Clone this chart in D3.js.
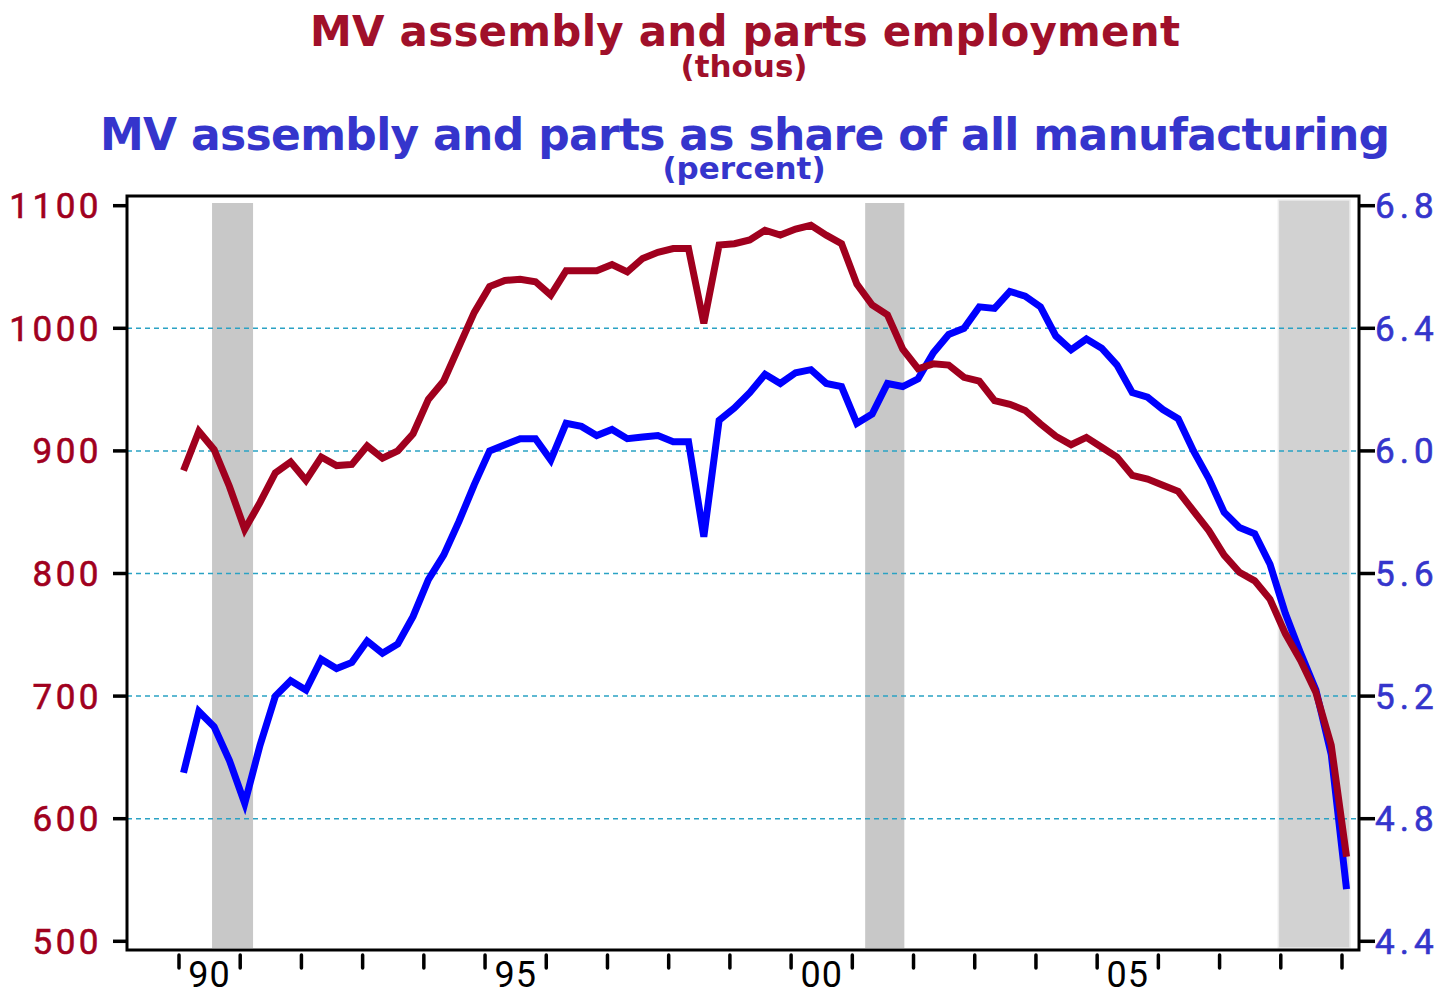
<!DOCTYPE html>
<html>
<head>
<meta charset="utf-8">
<script src="https://cdn.jsdelivr.net/npm/d3@7"></script>
<style>
  html, body { margin: 0; padding: 0; background: #fff; }
  svg { display: block; }
  .num { font-family: Roboto, "Liberation Sans", Arial, sans-serif; }
</style>
</head>
<body>
<svg id="chart" width="1445" height="995"></svg>
<script>
// ---------------- data ----------------
const startYear = 1990;
const employment = [884, 916, 901, 871, 836, 858, 882, 891, 876, 895, 888, 889, 904, 894, 900, 914,
  942, 957, 985, 1013, 1034, 1039, 1040, 1038, 1027, 1047, 1047, 1047, 1052, 1046, 1057, 1062,
  1065, 1065, 1004, 1068, 1069, 1072, 1080, 1076, 1081, 1084, 1076, 1069, 1036, 1019, 1011, 983,
  967, 971, 970, 960, 957, 941, 938, 933, 922, 912, 905, 911, 903, 895, 880, 877,
  872, 867, 851, 835, 815, 801, 794, 779, 751, 729, 703, 660, 569];
const share = [4.95, 5.15, 5.10, 4.99, 4.85, 5.04, 5.20, 5.25, 5.22, 5.32, 5.29, 5.31, 5.38, 5.34, 5.37, 5.46,
  5.58, 5.66, 5.77, 5.89, 6.00, 6.02, 6.04, 6.04, 5.97, 6.09, 6.08, 6.05, 6.07, 6.04, 6.045, 6.05,
  6.03, 6.03, 5.72, 6.10, 6.14, 6.19, 6.25, 6.22, 6.255, 6.265, 6.22, 6.21, 6.09, 6.12, 6.22, 6.21,
  6.235, 6.32, 6.38, 6.40, 6.47, 6.465, 6.52, 6.505, 6.47, 6.375, 6.33, 6.365, 6.335, 6.28, 6.19, 6.175,
  6.135, 6.105, 6.0, 5.91, 5.80, 5.75, 5.73, 5.63, 5.47, 5.34, 5.22, 5.01, 4.57];
// quarter labels (categories)
const quarters = employment.map((d, i) => (startYear + Math.floor(i / 4)) + "Q" + (i % 4 + 1));
const recessions = [[1990.54, 1991.21], [2001.21, 2001.85], [2007.96, 2009.13]];
const leftTicks = [500, 600, 700, 800, 900, 1000, 1100];
const rightTicks = [4.4, 4.8, 5.2, 5.6, 6.0, 6.4, 6.8];
const gridValues = [600, 700, 800, 900, 1000];
const yearTicks = d3.range(1990, 2010);
const yearLabels = [[1990, "90"], [1995, "95"], [2000, "00"], [2005, "05"]];
const titles = {
  t1: "MV assembly and parts employment",
  s1: "(thous)",
  t2: "MV assembly and parts as share of all manufacturing",
  s2: "(percent)"
};

// ---------------- layout ----------------
const RED = "#a0001e", BLUE = "#0000ff", BLUE_T = "#3535cc", RED_T = "#a0102a";
const frame = { l: 127, r: 1359, t: 196, b: 950 };
const svg = d3.select("#chart");

const x = d3.scaleLinear().domain([1990, 2009]).range([179, 1342]);
const yL = d3.scaleLinear().domain([500, 1100]).range([941.3, 205.7]);
const yR = d3.scaleLinear().domain([4.4, 6.8]).range([941.3, 205.7]);
const tOf = q => +q.slice(0, 4) + (+q.slice(5) - 1) * 0.25 + 0.074;

// titles
svg.append("text").attr("x", 745).attr("y", 46).attr("text-anchor", "middle")
  .attr("font-family", "DejaVu Sans").attr("font-weight", "bold").attr("font-size", 42)
  .attr("fill", RED_T).attr("textLength", 870).attr("lengthAdjust", "spacing").text(titles.t1);
svg.append("text").attr("x", 744).attr("y", 77).attr("text-anchor", "middle")
  .attr("font-family", "DejaVu Sans").attr("font-weight", "bold").attr("font-size", 31)
  .attr("fill", RED_T).text(titles.s1);
svg.append("text").attr("x", 745).attr("y", 150).attr("text-anchor", "middle")
  .attr("font-family", "DejaVu Sans").attr("font-weight", "bold").attr("font-size", 44)
  .attr("fill", BLUE_T).attr("textLength", 1290).attr("lengthAdjust", "spacing").text(titles.t2);
svg.append("text").attr("x", 744).attr("y", 179).attr("text-anchor", "middle")
  .attr("font-family", "DejaVu Sans").attr("font-weight", "bold").attr("font-size", 31)
  .attr("fill", BLUE_T).text(titles.s2);

// recession shading
svg.append("g").selectAll("rect").data(recessions).join("rect")
  .attr("x", d => x(d[0])).attr("width", d => x(d[1]) - x(d[0]))
  .attr("y", (d, i) => i === 2 ? 200 : 203).attr("height", (d, i) => i === 2 ? 748 : 745)
  .attr("fill", (d, i) => i === 2 ? "#d2d2d2" : "#c8c8c8")
  .attr("stroke", (d, i) => i === 2 ? "#ececec" : "none").attr("stroke-width", 1.5);

// gridlines
svg.append("g").selectAll("line").data(gridValues).join("line")
  .attr("x1", frame.l).attr("x2", frame.r)
  .attr("y1", d => yL(d)).attr("y2", d => yL(d))
  .attr("stroke", "#2aa2c4").attr("stroke-width", 1.5).attr("stroke-dasharray", "5,4");

// lines
const lineL = d3.line().x((d, i) => x(tOf(quarters[i]))).y(d => yL(d));
const lineR = d3.line().x((d, i) => x(tOf(quarters[i]))).y(d => yR(d));
svg.append("path").datum(share).attr("d", lineR).attr("fill", "none")
  .attr("stroke", BLUE).attr("stroke-width", 7).attr("stroke-linejoin", "miter").attr("stroke-miterlimit", 4);
svg.append("path").datum(employment).attr("d", lineL).attr("fill", "none")
  .attr("stroke", RED).attr("stroke-width", 7).attr("stroke-linejoin", "miter").attr("stroke-miterlimit", 4);

// frame
svg.append("rect").attr("x", frame.l).attr("y", frame.t)
  .attr("width", frame.r - frame.l).attr("height", frame.b - frame.t)
  .attr("fill", "none").attr("stroke", "#000").attr("stroke-width", 3);

// left axis
const gL = svg.append("g");
gL.selectAll("line").data(leftTicks).join("line")
  .attr("x1", 113).attr("x2", frame.l).attr("y1", d => yL(d)).attr("y2", d => yL(d))
  .attr("stroke", "#000").attr("stroke-width", 3.5);
gL.selectAll("text").data(leftTicks).join("text").attr("class", "num")
  .attr("x", 102).attr("y", d => yL(d) + 12.5).attr("text-anchor", "end")
  .attr("font-size", 35).attr("letter-spacing", 3.5)
  .attr("fill", RED).attr("stroke", RED).attr("stroke-width", 0.6).text(d => d);

// right axis
const gR = svg.append("g");
gR.selectAll("line").data(rightTicks).join("line")
  .attr("x1", frame.r).attr("x2", 1375).attr("y1", d => yR(d)).attr("y2", d => yR(d))
  .attr("stroke", "#000").attr("stroke-width", 3.5);
gR.selectAll("text").data(rightTicks).join("text").attr("class", "num")
  .attr("x", 1375).attr("y", d => yR(d) + 12.5).attr("text-anchor", "start")
  .attr("font-size", 35).attr("letter-spacing", 5)
  .attr("fill", BLUE_T).attr("stroke", BLUE_T).attr("stroke-width", 0.6).text(d => d3.format(".1f")(d));

// x axis ticks & labels
const gX = svg.append("g");
gX.selectAll("line").data(yearTicks).join("line")
  .attr("x1", d => x(d)).attr("x2", d => x(d)).attr("y1", 955).attr("y2", 968)
  .attr("stroke", "#000").attr("stroke-width", 3.5).attr("stroke-linecap", "round");
gX.selectAll("text").data(yearLabels).join("text").attr("class", "num")
  .attr("x", d => x(d[0] + 0.5)).attr("y", 987).attr("text-anchor", "middle")
  .attr("font-size", 36).attr("letter-spacing", 1)
  .attr("fill", "#000").text(d => d[1]);
</script>
</body>
</html>
